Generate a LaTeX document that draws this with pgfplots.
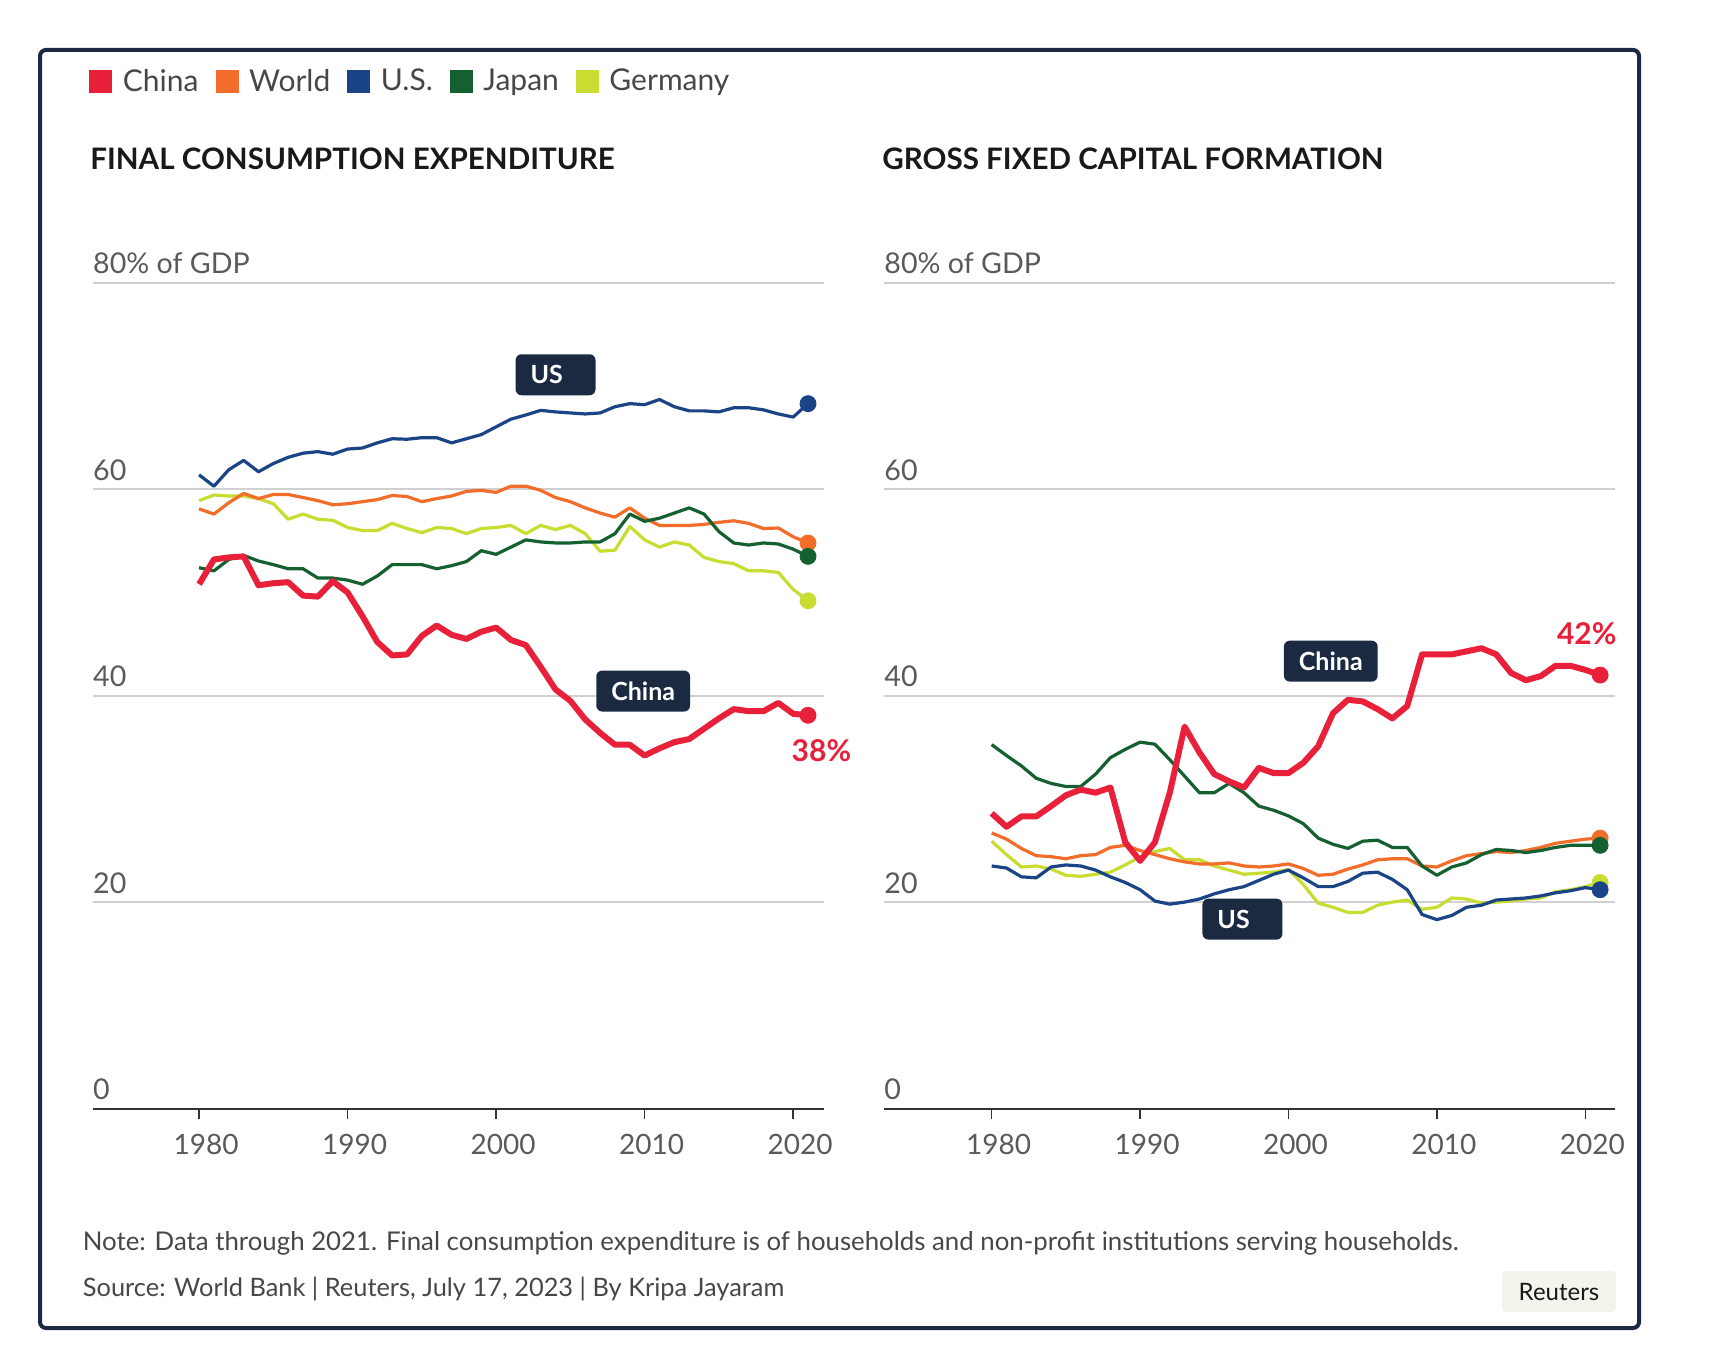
\documentclass[border=0pt]{standalone}
\usepackage{pgfplots}
\pgfplotsset{compat=1.18}
\usepackage{fontspec}
\setmainfont{Lato}
\definecolor{cChina}{HTML}{E8203A}
\definecolor{cWorld}{HTML}{F26C2A}
\definecolor{cUS}{HTML}{1B4486}
\definecolor{cJapan}{HTML}{156030}
\definecolor{cGermany}{HTML}{C8DC32}
\definecolor{navy}{HTML}{1B2A41}
\definecolor{gridc}{HTML}{D0D0D0}
\definecolor{txtgray}{HTML}{5A5A5A}
\definecolor{beige}{HTML}{F4F4EC}

\pgfplotstableread{
year China World US Japan Germany
1980 50.8 58.1 61.4 52.4 58.9
1981 53.2 57.6 60.3 52.1 59.45
1982 53.4 58.7 61.9 53.2 59.35
1983 53.5 59.6 62.8 53.6 59.35
1984 50.7 59.1 61.7 53.05 59.1
1985 50.9 59.5 62.5 52.7 58.6
1986 51.0 59.5 63.1 52.3 57.1
1987 49.7 59.2 63.5 52.3 57.6
1988 49.6 58.9 63.65 51.4 57.1
1989 51.1 58.5 63.4 51.4 57.0
1990 50.0 58.6 63.9 51.2 56.3
1991 47.7 58.8 64.0 50.8 56.0
1992 45.2 59.0 64.5 51.6 56.0
1993 43.9 59.4 64.9 52.7 56.7
1994 44.0 59.3 64.85 52.7 56.2
1995 45.8 58.8 65.0 52.7 55.8
1996 46.8 59.1 65.0 52.3 56.3
1997 45.9 59.35 64.5 52.6 56.2
1998 45.5 59.8 64.9 53.0 55.7
1999 46.2 59.9 65.3 54.05 56.2
2000 46.6 59.7 66.05 53.7 56.3
2001 45.4 60.3 66.8 54.4 56.5
2002 44.9 60.3 67.2 55.1 55.7
2003 42.8 59.9 67.65 54.9 56.5
2004 40.6 59.2 67.5 54.8 56.1
2005 39.5 58.8 67.4 54.8 56.5
2006 37.7 58.2 67.3 54.9 55.7
2007 36.4 57.7 67.4 54.9 54.0
2008 35.25 57.3 68.0 55.7 54.1
2009 35.25 58.2 68.3 57.6 56.4
2010 34.2 57.2 68.2 56.9 55.1
2011 34.9 56.5 68.7 57.2 54.4
2012 35.5 56.5 68.0 57.7 54.9
2013 35.8 56.5 67.6 58.2 54.6
2014 36.8 56.6 67.6 57.6 53.4
2015 37.8 56.8 67.5 55.9 53.0
2016 38.7 56.95 67.9 54.8 52.8
2017 38.5 56.7 67.9 54.6 52.1
2018 38.5 56.2 67.7 54.8 52.1
2019 39.3 56.25 67.3 54.7 51.95
2020 38.25 55.4 67.0 54.2 50.3
2021 38.1 54.8 68.3 53.5 49.2
}\consumption

\pgfplotstableread{
year China World US Japan Germany
1980 28.6 26.7 23.5 35.26 25.9
1981 27.3 26.1 23.3 34.2 24.6
1982 28.3 25.2 22.45 33.2 23.4
1983 28.3 24.5 22.35 32.0 23.5
1984 29.3 24.4 23.4 31.5 23.2
1985 30.35 24.2 23.6 31.2 22.6
1986 30.9 24.5 23.5 31.2 22.5
1987 30.6 24.6 23.1 32.4 22.7
1988 31.1 25.3 22.45 34.0 22.9
1989 25.8 25.5 21.9 34.8 23.6
1990 24.0 25.0 21.2 35.5 24.4
1991 25.8 24.6 20.1 35.3 24.9
1992 30.6 24.2 19.8 33.8 25.2
1993 37.0 23.9 20.0 32.2 24.1
1994 34.5 23.7 20.3 30.6 24.1
1995 32.4 23.7 20.8 30.6 23.5
1996 31.7 23.8 21.2 31.5 23.1
1997 31.1 23.5 21.5 30.6 22.7
1998 33.0 23.4 22.1 29.3 22.8
1999 32.5 23.5 22.7 28.9 22.9
2000 32.5 23.7 23.1 28.35 23.15
2001 33.5 23.25 22.35 27.6 21.7
2002 35.1 22.6 21.5 26.2 19.9
2003 38.3 22.7 21.5 25.6 19.5
2004 39.6 23.2 22.0 25.2 19.0
2005 39.45 23.6 22.8 25.9 19.0
2006 38.7 24.1 22.9 26.0 19.7
2007 37.8 24.2 22.2 25.3 20.0
2008 39.0 24.2 21.2 25.3 20.2
2009 44.0 23.5 18.8 23.5 19.3
2010 44.0 23.4 18.3 22.6 19.5
2011 44.0 24.0 18.7 23.4 20.4
2012 44.3 24.5 19.5 23.8 20.3
2013 44.6 24.7 19.7 24.6 19.9
2014 44.0 24.9 20.2 25.1 20.0
2015 42.2 24.8 20.3 25.0 20.1
2016 41.5 25.0 20.4 24.8 20.3
2017 41.9 25.3 20.6 25.0 20.4
2018 42.9 25.7 20.9 25.3 21.0
2019 42.9 25.9 21.1 25.5 21.2
2020 42.5 26.1 21.4 25.5 21.5
2021 42.0 26.2 21.2 25.5 21.9
}\capital

\tikzset{
  lbl/.style={fill=navy, rounded corners=3pt, text=white, font=\bfseries\fontsize{12.5}{14}\selectfont, inner xsep=7.5pt, minimum height=20.5pt},
}
\pgfplotsset{
  panel/.style={
    scale only axis, width=365.8pt, height=412.8pt,
    ymin=0, ymax=80,
    axis x line=bottom, axis y line=left,
    x axis line style={-, draw=black!80, line width=1pt},
    y axis line style={draw=none},
    ytick={0,20,40,60,80},
    yticklabels={0,20,40,60,80\% of GDP},
    ytick style={draw=none},
    ymajorgrids, grid style={gridc, line width=0.9pt},
    xtick={1980,1990,2000,2010,2020},
    xticklabels={1980,1990,2000,2010,2020},
    tick align=outside, major tick length=5pt,
    xtick style={draw=black!80, line width=0.8pt},
    xticklabel style={font=\fontsize{14}{16}\selectfont, text=txtgray, anchor=base, yshift=-18pt, xshift=3.5pt},
    yticklabel style={font=\fontsize{14.3}{16}\selectfont, text=txtgray, anchor=base west, inner sep=0pt, xshift=5.1pt, yshift=4.5pt},
    clip=false,
    thin line/.style={line width=1.6pt, line join=round},
    endpt/.style={only marks, mark=*, mark size=4pt, forget plot},
  },
}

\begin{document}
\begin{tikzpicture}
\useasboundingbox[fill=white] (0,0) rectangle (864pt,685.5pt);
\draw[navy, line width=2pt, rounded corners=3pt] (20pt,21.5pt) rectangle (819.5pt,660.5pt);

% ---------------- left panel
\begin{axis}[panel, at={(46.3pt,131.25pt)}, anchor=south west,
  xmin=1972.83, xmax=2022.09,
  legend style={draw=none, fill=none, at={(-0.005,1.2439)}, anchor=west, legend columns=5,
    font=\fontsize{15}{18}\selectfont, text=black!72, inner sep=0pt,
    /tikz/every odd column/.append style={column sep=3.3pt},
    /tikz/every even column/.append style={column sep=6.5pt}},
  legend image code/.code={\path[#1] (0pt,-5.75pt) rectangle (11.5pt,5.75pt);},
]
\addlegendimage{fill=cChina, draw=none}\addlegendentry{China}
\addlegendimage{fill=cWorld, draw=none}\addlegendentry{World}
\addlegendimage{fill=cUS, draw=none}\addlegendentry{U.S.}
\addlegendimage{fill=cJapan, draw=none}\addlegendentry{Japan}
\addlegendimage{fill=cGermany, draw=none}\addlegendentry{Germany}

\addplot[thin line, cGermany, forget plot] table[x=year, y=Germany] {\consumption};
\addplot[thin line, cWorld, forget plot] table[x=year, y=World] {\consumption};
\addplot[thin line, cJapan, forget plot] table[x=year, y=Japan] {\consumption};
\addplot[thin line, cUS, forget plot] table[x=year, y=US] {\consumption};
\addplot[line width=3pt, cChina, line join=round, forget plot] table[x=year, y=China] {\consumption};
\addplot[endpt, cGermany] coordinates {(2021,49.2)};
\addplot[endpt, cWorld] coordinates {(2021,54.8)};
\addplot[endpt, cJapan] coordinates {(2021,53.5)};
\addplot[endpt, cUS] coordinates {(2021,68.3)};
\addplot[endpt, cChina] coordinates {(2021,38.1)};

\node[anchor=base west, font=\bfseries\fontsize{14.8}{18}\selectfont, text=black!90, inner sep=0pt] at (rel axis cs:-0.0036,1.1368) {FINAL CONSUMPTION EXPENDITURE};
\node[lbl, text width=25pt, align=left] at (axis cs:2004.0,71.1) {US};
\node[lbl] at (axis cs:2009.9,40.45) {China};
\node[font=\bfseries\fontsize{15}{17}\selectfont, text=cChina] at (axis cs:2021.9,34.7) {38\%};
\end{axis}

% ---------------- right panel
\begin{axis}[panel, at={(441.9pt,131.25pt)}, anchor=south west,
  xmin=1972.73, xmax=2022.03]
\addplot[thin line, cGermany] table[x=year, y=Germany] {\capital};
\addplot[thin line, cWorld] table[x=year, y=World] {\capital};
\addplot[thin line, cUS] table[x=year, y=US] {\capital};
\addplot[thin line, cJapan] table[x=year, y=Japan] {\capital};
\addplot[line width=3pt, cChina, line join=round] table[x=year, y=China] {\capital};
\addplot[endpt, cGermany] coordinates {(2021,21.9)};
\addplot[endpt, cWorld] coordinates {(2021,26.2)};
\addplot[endpt, cJapan] coordinates {(2021,25.5)};
\addplot[endpt, cUS] coordinates {(2021,21.2)};
\addplot[endpt, cChina] coordinates {(2021,42.0)};

\node[anchor=base west, font=\bfseries\fontsize{14.8}{18}\selectfont, text=black!90, inner sep=0pt] at (rel axis cs:-0.0025,1.1368) {GROSS FIXED CAPITAL FORMATION};
\node[lbl] at (axis cs:2002.85,43.35) {China};
\node[lbl, text width=25pt, align=left] at (axis cs:1996.9,18.35) {US};
\node[font=\bfseries\fontsize{15}{17}\selectfont, text=cChina] at (axis cs:2020.1,46.0) {42\%};
\end{axis}

% ---------------- notes
\node[anchor=base west, inner sep=0pt, font=\fontsize{12.9}{15}\selectfont, text=black!72] at (41.25pt,60.5pt) {Note: Data through 2021. Final consumption expenditure is of households and non-profit institutions serving households.};
\node[anchor=base west, inner sep=0pt, font=\fontsize{12.7}{15}\selectfont, text=black!72] at (41.25pt,37.5pt) {Source: World Bank | Reuters, July 17, 2023 | By Kripa Jayaram};
\fill[beige, rounded corners=2pt] (751pt,29.5pt) rectangle (808pt,50pt);
\node[font=\fontsize{12}{14}\selectfont, text=black!90] at (779.5pt,39.75pt) {Reuters};
\end{tikzpicture}
\end{document}
